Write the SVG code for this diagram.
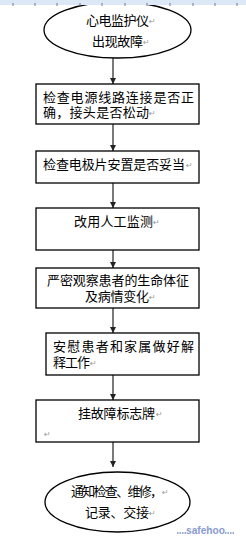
<svg xmlns="http://www.w3.org/2000/svg" width="246" height="546" viewBox="0 0 246 546">
<style>
.shape{fill:#fff;stroke:#000;stroke-width:1.3}
.t{font-family:"Liberation Sans","Noto Sans CJK SC",sans-serif;font-size:13px;fill:#000}
.pm{font-family:"DejaVu Sans",sans-serif;font-size:8px;fill:#999}
.conn{stroke:#333;stroke-width:1.3;fill:none}
</style>
<defs>
<marker id="ah" markerWidth="7" markerHeight="6" refX="6" refY="3" orient="auto" markerUnits="userSpaceOnUse">
<path d="M0,0 L6,3 L0,6 Z" fill="#222"/>
</marker>
</defs>
<rect width="246" height="546" fill="#fff"/>
<g id="connectors">
<line class="conn" x1="113" y1="58" x2="113" y2="84" marker-end="url(#ah)"/>
<line class="conn" x1="113" y1="124" x2="113" y2="151" marker-end="url(#ah)"/>
<line class="conn" x1="113" y1="183" x2="113" y2="208" marker-end="url(#ah)"/>
<line class="conn" x1="113" y1="250" x2="113" y2="268" marker-end="url(#ah)"/>
<line class="conn" x1="113" y1="308" x2="113" y2="333" marker-end="url(#ah)"/>
<line class="conn" x1="113" y1="375" x2="113" y2="400" marker-end="url(#ah)"/>
<line class="conn" x1="113" y1="442" x2="113" y2="467" marker-end="url(#ah)"/>
</g>
<g id="start">
<ellipse class="shape" cx="117.5" cy="30" rx="73.5" ry="28"/>
<text class="t" x="86" y="25" textLength="63" lengthAdjust="spacing">心电监护仪</text>
<text class="pm" x="149" y="24">↵</text>
<text class="t" x="92" y="46" textLength="51" lengthAdjust="spacing">出现故障</text>
<text class="pm" x="143" y="45">↵</text>
</g>
<g id="ruler">
<rect x="0" y="0" width="246" height="5" fill="#dde8f6"/>
<path d="M13,3V6M35,3V6M57,3V6M80,3V6M102,3V6M125,3V6M147,3V6M170,3V6M193,3V6M215,3V6M237,3V6" stroke="#6a7a99" stroke-width="1"/>
</g>
<g id="step1">
<rect class="shape" x="36" y="84" width="163" height="40"/>
<text class="t" x="43" y="102" textLength="151" lengthAdjust="spacing">检查电源线路连接是否正</text>
<text class="t" x="43" y="117" textLength="106" lengthAdjust="spacing">确，接头是否松动</text>
<text class="pm" x="149" y="116">↵</text>
</g>
<g id="step2">
<rect class="shape" x="36" y="151" width="163" height="32"/>
<text class="t" x="43" y="169" textLength="142" lengthAdjust="spacing">检查电极片安置是否妥当</text>
<text class="pm" x="186" y="168">↵</text>
</g>
<g id="step3">
<rect class="shape" x="36" y="208" width="163" height="42"/>
<text class="t" x="74" y="226" textLength="79" lengthAdjust="spacing">改用人工监测</text>
<text class="pm" x="153" y="225">↵</text>
</g>
<g id="step4">
<rect class="shape" x="36" y="268" width="163" height="40"/>
<text class="t" x="47" y="285" textLength="142" lengthAdjust="spacing">严密观察患者的生命体征</text>
<text class="t" x="85" y="301" textLength="64" lengthAdjust="spacing">及病情变化</text>
<text class="pm" x="149" y="300">↵</text>
</g>
<g id="step5">
<rect class="shape" x="46" y="333" width="153" height="42"/>
<text class="t" x="53" y="351" textLength="141" lengthAdjust="spacing">安慰患者和家属做好解</text>
<text class="t" x="53" y="367" textLength="37" lengthAdjust="spacing">释工作</text>
<text class="pm" x="90" y="366">↵</text>
</g>
<g id="step6">
<rect class="shape" x="36" y="400" width="163" height="42"/>
<text class="t" x="78" y="418" textLength="77" lengthAdjust="spacing">挂故障标志牌</text>
<text class="pm" x="156" y="417">↵</text>
<text class="pm" x="44" y="437">↵</text>
</g>
<g id="end">
<ellipse class="shape" cx="117.5" cy="502" rx="72.5" ry="30"/>
<text class="t" x="71" y="496" textLength="92" lengthAdjust="spacing">通知检查、维修，</text>
<text class="pm" x="162" y="495">↵</text>
<text class="t" x="85" y="517" textLength="64" lengthAdjust="spacing">记录、交接</text>
<text class="pm" x="149" y="516">↵</text>
</g>
<g id="watermark">
<path d="M177,533h9M225,533h9" stroke="#9aaad8" stroke-width="2" stroke-dasharray="1.5,1"/>
<text x="186" y="534" font-family="Liberation Sans Narrow,Liberation Sans,sans-serif" font-size="10" font-weight="bold" fill="#8a9ad0" textLength="39" lengthAdjust="spacingAndGlyphs">safehoo</text>
</g>
</svg>
